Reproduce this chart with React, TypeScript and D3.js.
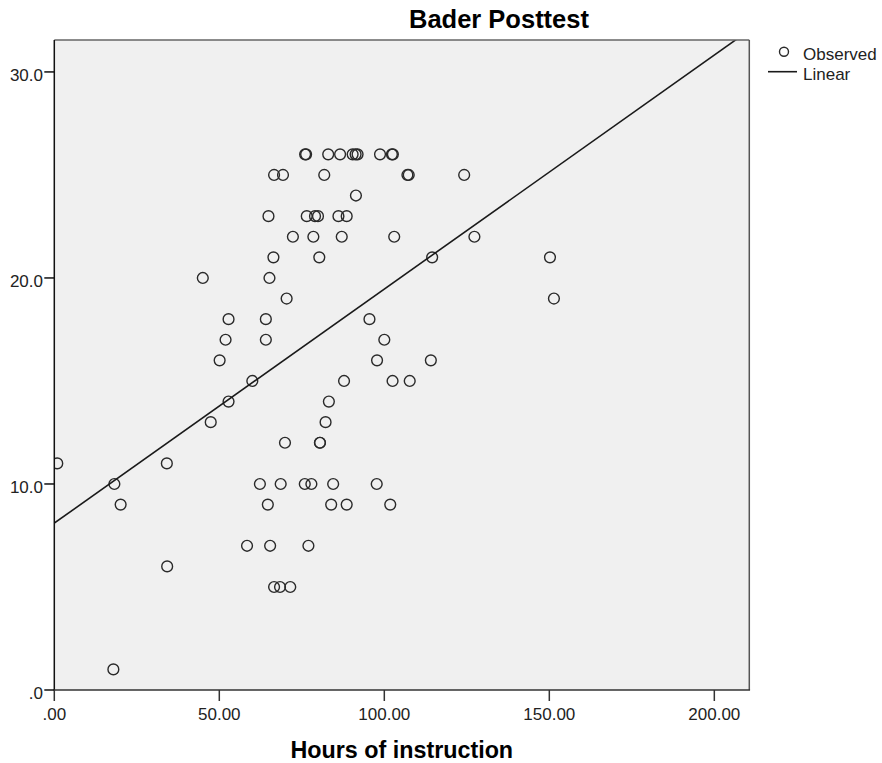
import React from "react";
import * as d3 from "d3";

// Hours of instruction (x) and Bader Posttest score (y) for each student
const hours: number[] = [
  76.0, 76.3, 83.0, 86.6, 90.4, 91.3, 91.9, 98.7, 102.3, 102.6,
  66.6, 69.3, 81.8, 107.0, 107.4, 124.2,
  91.4,
  64.9, 76.5, 79.0, 79.9, 86.1, 88.6,
  72.3, 78.5, 87.1, 103.0, 127.3,
  66.4, 80.3, 114.5, 150.2,
  45.0, 65.2,
  70.4, 151.4,
  52.8, 64.1, 95.5,
  51.9, 64.1, 100.0,
  50.1, 97.8, 114.1,
  60.0, 87.8, 102.5, 107.7,
  52.8, 83.2,
  47.4, 82.2,
  69.9, 80.5, 80.5,
  0.9, 34.1,
  18.2, 62.3, 68.6, 75.9, 77.9, 84.5, 97.7,
  20.1, 64.7, 83.9, 88.6, 101.8,
  58.4, 65.4, 77.0,
  34.2,
  66.6, 68.4, 71.5,
  17.9,
];

const scores: number[] = [
  26, 26, 26, 26, 26, 26, 26, 26, 26, 26,
  25, 25, 25, 25, 25, 25,
  24,
  23, 23, 23, 23, 23, 23,
  22, 22, 22, 22, 22,
  21, 21, 21, 21,
  20, 20,
  19, 19,
  18, 18, 18,
  17, 17, 17,
  16, 16, 16,
  15, 15, 15, 15,
  14, 14,
  13, 13,
  12, 12, 12,
  11, 11,
  10, 10, 10, 10, 10, 10, 10,
  9, 9, 9, 9, 9,
  7, 7, 7,
  6,
  5, 5, 5,
  1,
];

// Linear fit coefficients
const fitIntercept = 8.1;
const fitSlope = 0.1136;

const xTickValues: number[] = [0, 50, 100, 150, 200];
const xTickLabels: string[] = [".00", "50.00", "100.00", "150.00", "200.00"];
const yTickValues: number[] = [0, 10, 20, 30];
const yTickLabels: string[] = [".0", "10.0", "20.0", "30.0"];

const legendLabels: string[] = ["Observed", "Linear"];

const W = 882;
const H = 763;
const left = 54.3;
const right = 749.3;
const top = 40;
const bottom = 690;

const FONT = "'Liberation Sans', Arial, Helvetica, sans-serif";

export default function App() {
  const x = d3.scaleLinear().domain([0, 210.6]).range([left, right]);
  const y = d3.scaleLinear().domain([0, 31.55]).range([bottom, top]);

  const fitLine = d3
    .line<number>()
    .x((d) => x(d))
    .y((d) => y(fitIntercept + fitSlope * d));

  const points = hours.map((h, i) => ({ h, s: scores[i] }));

  return (
    <div style={{ position: "absolute", left: 0, top: 0 }}>
      <svg width={W} height={H} style={{ display: "block", background: "#fff" }}>
        <defs>
          <clipPath id="plot-clip">
            <rect x={left} y={top} width={right - left} height={bottom - top} />
          </clipPath>
        </defs>

        {/* title */}
        <text
          x={499}
          y={28.3}
          textAnchor="middle"
          fontFamily={FONT}
          fontWeight="bold"
          fontSize={25.5}
          fill="#000"
        >
          Bader Posttest
        </text>

        {/* plot background */}
        <rect x={left} y={top} width={right - left} height={bottom - top} fill="#f0f0f0" />

        {/* observed points */}
        <g clipPath="url(#plot-clip)">
          {points.map((p, i) => (
            <circle
              key={i}
              cx={x(p.h)}
              cy={y(p.s)}
              r={5.4}
              fill="none"
              stroke="#2a2a2a"
              strokeWidth={1.4}
            />
          ))}
          <path
            d={fitLine([0, 210.6]) || ""}
            fill="none"
            stroke="#1a1a1a"
            strokeWidth={1.6}
          />
        </g>

        {/* frame */}
        <line x1={left} y1={top} x2={right} y2={top} stroke="#666" strokeWidth={1.5} />
        <line x1={right} y1={top} x2={right} y2={bottom} stroke="#555" strokeWidth={1.5} />
        <line x1={left} y1={top} x2={left} y2={bottom + 0.75} stroke="#111" strokeWidth={1.5} />
        <line x1={left - 0.75} y1={bottom} x2={right + 0.75} y2={bottom} stroke="#333" strokeWidth={1.5} />

        {/* y axis ticks */}
        {yTickValues.map((v, i) => (
          <g key={"y" + i}>
            <line x1={left - 10} x2={left} y1={y(v)} y2={y(v)} stroke="#111" strokeWidth={1.5} />
            <text
              x={43}
              y={y(v) + 9}
              textAnchor="end"
              fontFamily={FONT}
              fontSize={17}
              fill="#222"
            >
              {yTickLabels[i]}
            </text>
          </g>
        ))}

        {/* x axis ticks */}
        {xTickValues.map((v, i) => (
          <g key={"x" + i}>
            <line x1={x(v)} x2={x(v)} y1={bottom} y2={bottom + 11} stroke="#333" strokeWidth={1.5} />
            <text
              x={x(v)}
              y={720}
              textAnchor="middle"
              fontFamily={FONT}
              fontSize={17}
              fill="#222"
            >
              {xTickLabels[i]}
            </text>
          </g>
        ))}

        {/* x axis title */}
        <text
          x={(left + right) / 2}
          y={758}
          textAnchor="middle"
          fontFamily={FONT}
          fontWeight="bold"
          fontSize={23.3}
          fill="#000"
        >
          Hours of instruction
        </text>

        {/* legend */}
        <circle cx={784} cy={51.7} r={4.5} fill="none" stroke="#2a2a2a" strokeWidth={1.4} />
        <text x={803} y={60} fontFamily={FONT} fontSize={17} fill="#222">
          {legendLabels[0]}
        </text>
        <line x1={768} x2={797} y1={71.7} y2={71.7} stroke="#1a1a1a" strokeWidth={1.6} />
        <text x={803} y={80} fontFamily={FONT} fontSize={17} fill="#222">
          {legendLabels[1]}
        </text>
      </svg>
    </div>
  );
}
